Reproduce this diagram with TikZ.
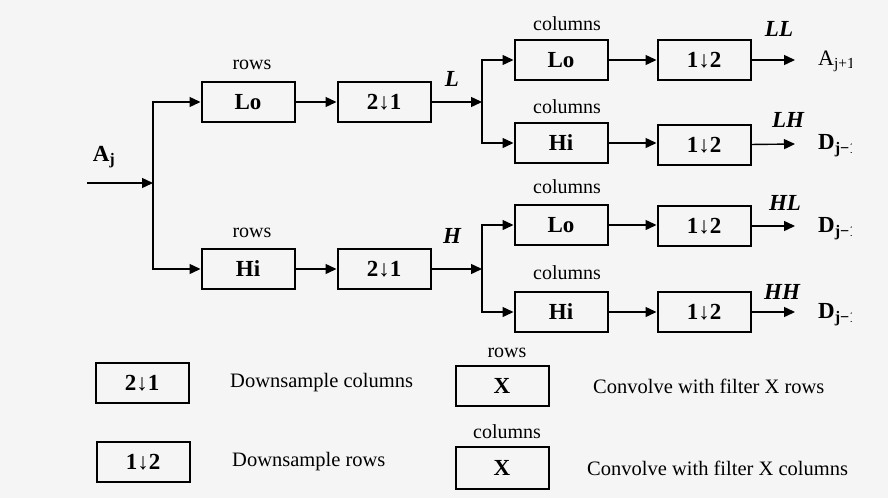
\documentclass[tikz,border=0pt]{standalone}
\usepackage{fontspec}
\setmainfont{Liberation Serif}
\usetikzlibrary{arrows.meta}
\definecolor{bgc}{HTML}{F5F5F5}
\begin{document}
\begin{tikzpicture}[x=1pt,y=-1pt,
  blk/.style={draw, line width=2pt, minimum width=93pt, minimum height=40pt, inner sep=0pt, font=\fontsize{23}{26}\selectfont\bfseries},
  lbl/.style={font=\fontsize{20}{23}\selectfont, inner sep=0pt},
  sig/.style={font=\fontsize{23}{26}\selectfont\bfseries\itshape, inner sep=0pt},
  outlbl/.style={font=\fontsize{23}{26}\selectfont\bfseries, anchor=west, inner sep=0pt},
  leg/.style={font=\fontsize{20.5}{24}\selectfont, anchor=west, inner sep=0pt},
  wire/.style={line width=1.4pt},
  arr/.style={wire, -{Triangle[length=11pt,width=10pt]}},
]
\fill[bgc] (0,0) rectangle (888,498);
\useasboundingbox (0,0) rectangle (888,498);

% input
\coordinate (in) at (87,183);
\coordinate (j0) at (153,183);
\node[sig, font=\fontsize{23}{26}\selectfont\bfseries] (aj) at (104,157) {A\textsubscript{j}};

% row stage
\node[blk] (rowLo) at (248,102) {Lo};
\node[blk] (rowD1) at (384,102) {2↓1};
\node[blk] (rowHi) at (248,269) {Hi};
\node[blk] (rowD2) at (384,269) {2↓1};
\node[lbl] (rl1) at (252,65) {rows};
\node[lbl] (rl2) at (252,233) {rows};
\node[sig] (sL) at (452,79) {L};
\node[sig] (sH) at (452,236) {H};

\draw[arr] (in) -- (j0);
\draw[arr] (j0) |- (rowLo.west);
\draw[arr] (j0) |- (rowHi.west);
\draw[arr] (rowLo) -- (rowD1);
\draw[arr] (rowHi) -- (rowD2);

% column stage
\coordinate (jL) at (482,102);
\coordinate (jH) at (482,269);
\node[blk] (cLL) at (561,60) {Lo};
\node[blk] (dLL) at (704,60) {1↓2};
\node[blk] (cLH) at (561,143) {Hi};
\node[blk] (dLH) at (704,145) {1↓2};
\node[blk] (cHL) at (561,225) {Lo};
\node[blk] (dHL) at (704,226) {1↓2};
\node[blk] (cHH) at (561,312) {Hi};
\node[blk] (dHH) at (704,312) {1↓2};
\node[lbl] (cl1) at (567,24) {columns};
\node[lbl] (cl2) at (567,107) {columns};
\node[lbl] (cl3) at (567,187) {columns};
\node[lbl] (cl4) at (567,273) {columns};

\draw[arr] (rowD1) -- (jL);
\draw[arr] (rowD2) -- (jH);
\draw[arr] (jL) |- (cLL.west);
\draw[arr] (jL) |- (cLH.west);
\draw[arr] (jH) |- (cHL.west);
\draw[arr] (jH) |- (cHH.west);
\draw[arr] (cLL) -- (dLL);
\draw[arr] (cLH.east) -- (dLH.west |- cLH.east);
\draw[arr] (cHL.east) -- (dHL.west |- cHL.east);
\draw[arr] (cHH) -- (dHH);

% outputs
\coordinate (oLL) at (795,60);
\coordinate (oLH) at (795,144);
\coordinate (oHL) at (795,226);
\coordinate (oHH) at (795,312);
\draw[arr] (dLL) -- (oLL);
\draw[arr] (dLH) -- (oLH);
\draw[arr] (dHL) -- (oHL);
\draw[arr] (dHH) -- (oHH);
\node[sig] (sLL) at (779,29) {LL};
\node[sig] (sLH) at (788,120) {LH};
\node[sig] (sHL) at (785,203) {HL};
\node[sig] (sHH) at (782,292) {HH};

\begin{scope}
\clip (0,0) rectangle (851,498);
\node[outlbl, font=\fontsize{22}{25}\selectfont] (tA) at (818,61) {A\textsubscript{j+1}};
\node[outlbl] (tD1) at (818,146) {D\textsubscript{j−1}};
\node[outlbl] (tD2) at (818,229) {D\textsubscript{j−1}};
\node[outlbl] (tD3) at (818,315) {D\textsubscript{j−1}};
\end{scope}

% legend
\node[blk] (gD1) at (142,383) {2↓1};
\node[leg] (gt1) at (230,383) {Downsample columns};
\node[blk] (gD2) at (143,462) {1↓2};
\node[leg] (gt2) at (232,462) {Downsample rows};
\node[lbl] (gr) at (507,353) {rows};
\node[blk] (gX1) at (502,386) {X};
\node[leg] (gt3) at (593,386) {Convolve with filter X rows};
\node[lbl] (gc) at (507,432) {columns};
\node[blk, minimum height=42pt] (gX2) at (502,468) {X};
\node[leg] (gt4) at (587,468) {Convolve with filter X columns};
\end{tikzpicture}
\end{document}
